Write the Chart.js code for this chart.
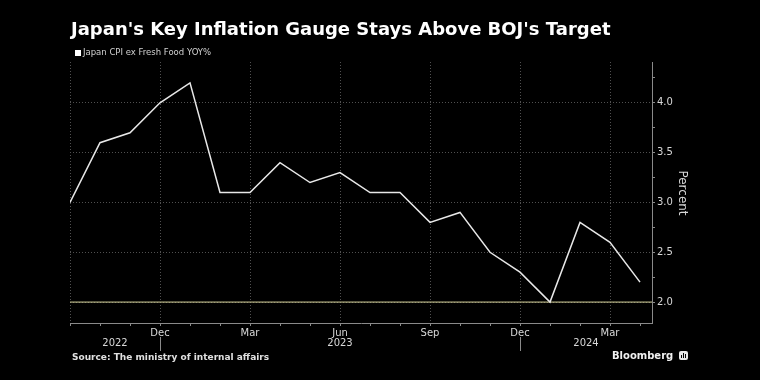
<!DOCTYPE html>
<html>
<head>
<meta charset="utf-8">
<script src="https://cdn.jsdelivr.net/npm/chart.js@4/dist/chart.umd.min.js"></script>
<style>
  html, body { margin: 0; padding: 0; background: #000; }
  #wrap { position: relative; width: 760px; height: 380px; background: #000; overflow: hidden; font-family: "DejaVu Sans", sans-serif; }
  #cv { position: absolute; left: 0; top: 0; }
  .t { position: absolute; white-space: nowrap; }
  #title { left: 71px; top: 20px; font-size: 18px; line-height: 18px; font-weight: bold; color: #fff; }
  #legend { left: 75px; top: 47px; font-size: 8.5px; line-height: 10px; color: #d0d0d0; }
  #legend .sw { display: inline-block; width: 6px; height: 6px; background: #fff; margin-right: 2px; vertical-align: -0.5px; }
  #source { left: 72px; top: 352px; font-size: 9px; line-height: 11px; font-weight: bold; color: #e0e0e0; }
  #brand { left: 612px; top: 350px; font-size: 10px; line-height: 12px; font-weight: bold; color: #f0f0f0; }
  #brand .ic { position: relative; display: inline-block; width: 9px; height: 9px; background: #e8e8e8; border-radius: 2px; margin-left: 6px; vertical-align: -1px; }
  #brand .ic i { position: absolute; bottom: 2px; width: 1px; background: #000; }
</style>
</head>
<body>
<div id="wrap">
  <canvas id="cv" width="760" height="380"></canvas>
  <div class="t" id="title">Japan's Key Inflation Gauge Stays Above BOJ's Target</div>
  <div class="t" id="legend"><span class="sw"></span>Japan CPI ex Fresh Food YOY%</div>
  <div class="t" id="source">Source: The ministry of internal affairs</div>
  <div class="t" id="brand">Bloomberg<span class="ic"><i style="left:2px;height:3px"></i><i style="left:4px;height:5px"></i><i style="left:6px;height:4px"></i></span></div>
</div>
<script>
// ---- data ----
const months = ['Sep 2022','Oct 2022','Nov 2022','Dec 2022','Jan 2023','Feb 2023','Mar 2023','Apr 2023',
  'May 2023','Jun 2023','Jul 2023','Aug 2023','Sep 2023','Oct 2023','Nov 2023','Dec 2023',
  'Jan 2024','Feb 2024','Mar 2024','Apr 2024'];
const cpiExFreshFood = [3.0,3.6,3.7,4.0,4.2,3.1,3.1,3.4,3.2,3.3,3.1,3.1,2.8,2.9,2.5,2.3,2.0,2.8,2.6,2.2];
const bojTarget = 2.0;
const yTickLabels = ['2.0','2.5','3.0','3.5','4.0'];
const yAxisTitle = 'Percent';
const xMin = 0, xMax = 19.4;
const yMin = 1.79, yMax = 4.41;

const monthName = m => m.split(' ')[0];
const yearOf = m => m.split(' ')[1];
const isHalf = v => Math.abs(v * 2 - Math.round(v * 2)) < 1e-6;

const yearLabelsPlugin = {
  id: 'yearLabels',
  afterDraw(chart) {
    const ctx = chart.ctx, xs = chart.scales.x;
    const decIdx = months.map((m, i) => monthName(m) === 'Dec' ? i : -1).filter(i => i >= 0);
    const bounds = [xMin, ...decIdx, xMax];
    const years = [];
    months.forEach(m => { if (!years.includes(yearOf(m))) years.push(yearOf(m)); });
    ctx.save();
    ctx.strokeStyle = '#8a8a8a';
    ctx.lineWidth = 1;
    decIdx.forEach(i => {
      const px = Math.round(xs.getPixelForValue(i)) + 0.5;
      ctx.beginPath(); ctx.moveTo(px, 337); ctx.lineTo(px, 351); ctx.stroke();
    });
    ctx.fillStyle = '#d8d8d8';
    ctx.font = '10px "DejaVu Sans"';
    ctx.textAlign = 'center';
    ctx.textBaseline = 'middle';
    years.forEach((y, k) => {
      const c = (bounds[k] + bounds[k + 1]) / 2;
      ctx.fillText(y, xs.getPixelForValue(c), 343);
    });
    ctx.translate(682, 193);
    ctx.rotate(Math.PI / 2);
    ctx.font = '12px "DejaVu Sans"';
    ctx.fillStyle = '#d8d8d8';
    ctx.fillText(yAxisTitle, 0, 0);
    ctx.restore();
  }
};

new Chart(document.getElementById('cv'), {
  type: 'line',
  data: {
    datasets: [
      {
        label: 'Japan CPI ex Fresh Food YOY%',
        data: cpiExFreshFood.map((v, i) => ({ x: i, y: v })),
        borderColor: '#e8e8e8',
        borderWidth: 1.5,
        pointRadius: 0,
        tension: 0,
        order: 1
      },
      {
        label: 'BOJ target',
        data: [{ x: xMin, y: bojTarget }, { x: xMax, y: bojTarget }],
        borderColor: '#d8d49c',
        borderWidth: 1,
        pointRadius: 0,
        order: 2
      }
    ]
  },
  options: {
    responsive: false,
    animation: false,
    events: [],
    layout: { padding: { left: 70, top: 62, right: 0, bottom: 0 } },
    plugins: { legend: { display: false }, title: { display: false }, tooltip: { enabled: false } },
    scales: {
      x: {
        type: 'linear',
        min: xMin, max: xMax,
        afterFit(s) { s.height = 57; },
        border: { display: true, color: '#8a8a8a', width: 1, dash: [1, 2] },
        grid: {
          color: c => (c.tick && c.tick.value % 3 === 0) ? '#505050' : 'rgba(0,0,0,0)',
          tickColor: '#8a8a8a',
          tickLength: 3,
          tickBorderDash: [],
          lineWidth: 1
        },
        ticks: {
          stepSize: 1,
          includeBounds: false,
          autoSkip: false,
          maxRotation: 0,
          padding: 1,
          color: '#d8d8d8',
          font: { family: 'DejaVu Sans', size: 10 },
          callback: v => (v > 0 && v % 3 === 0 && months[v]) ? monthName(months[v]) : ''
        }
      },
      y: {
        position: 'right',
        min: yMin, max: yMax,
        afterFit(s) { s.width = 108; },
        border: { display: true, color: '#8a8a8a', width: 1, dash: [1, 2] },
        grid: {
          color: c => (c.tick && isHalf(c.tick.value) && yTickLabels.includes(c.tick.value.toFixed(1))) ? '#505050' : 'rgba(0,0,0,0)',
          tickColor: '#8a8a8a',
          tickLength: 3,
          tickBorderDash: [],
          lineWidth: 1
        },
        ticks: {
          stepSize: 0.25,
          includeBounds: false,
          autoSkip: false,
          padding: 2,
          color: '#d8d8d8',
          font: { family: 'DejaVu Sans', size: 10 },
          callback: v => {
            const s = v.toFixed(1);
            return (isHalf(v) && yTickLabels.includes(s)) ? s : '';
          }
        }
      }
    }
  },
  plugins: [yearLabelsPlugin]
});
</script>
</body>
</html>
